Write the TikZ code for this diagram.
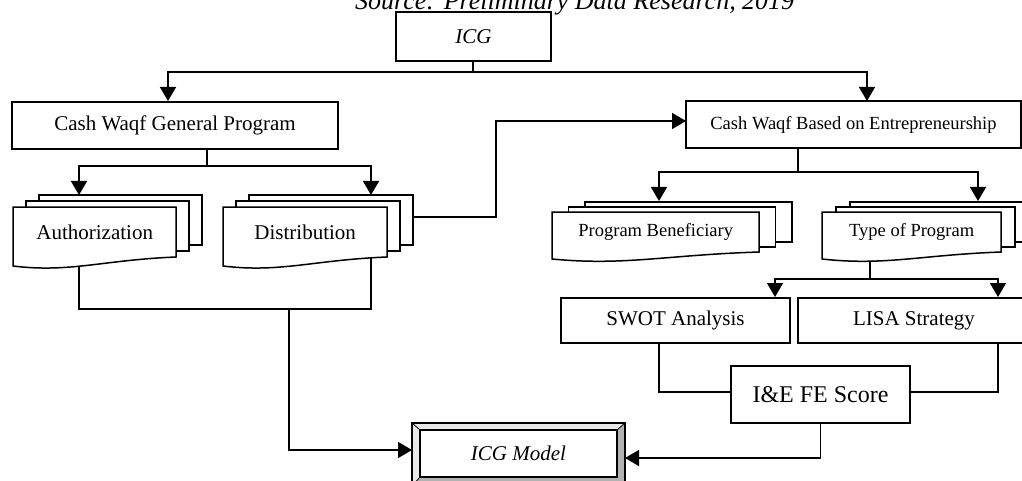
\documentclass[tikz,border=0pt]{standalone}
\usepackage{fontspec}
\setmainfont{Liberation Serif}
\usetikzlibrary{arrows.meta}

% A stack of three document pages: two plain sheets behind a front sheet with a wavy foot.
% #1 name, #2 left, #3 top, #4 width, #5 right-side height, #6 left-side height,
% #7 x offset of the back sheets, #8 y offset of the back sheets, #9 label
\newcommand\docstack[9]{%
  \draw[pg] ({#2+2*#7},{#3-2*#8}) rectangle ++(#4,#5);
  \draw[pg] ({#2+#7},{#3-#8}) rectangle ++(#4,#5);
  \draw[pg] (#2,#3) -- ++(#4,0) -- ++(0,#5)
    .. controls ++({-0.45*#4},3) and ({#2+0.35*#4},{#3+#6+7}) .. (#2,{#3+#6}) -- cycle;
  \node[inner sep=0pt, minimum width=#4, minimum height=#5, anchor=north west] (#1) at (#2,#3) {#9};
}

\begin{document}
\begin{tikzpicture}[x=1pt,y=-1pt,
  ln/.style={line width=1.6pt},
  arr/.style={ln,-{Triangle[width=16pt,length=14pt]}},
  pg/.style={draw,line width=1.5pt,fill=white,line join=miter},
  box/.style={draw,line width=1.5pt,fill=white,inner sep=0pt},
  txt/.style={font=\fontsize{21}{25}\selectfont},
  small/.style={font=\fontsize{18.5}{22}\selectfont},
]
\useasboundingbox (0,0) rectangle (1022,481);
\clip (0,0) rectangle (1022,481);

% caption line above the chart
\node[anchor=base west, inner sep=0pt, font=\fontsize{26}{30}\selectfont\itshape] (src) at (355,10)
  {Source: Preliminary Data Research, 2019};

% ---------- connectors (drawn first, shapes cover their ends) ----------
\coordinate (top) at (473,61);
\draw[arr] (top) |- (168,72) -- (168,101);
\draw[arr] (top) |- (867,72) -- (867,101);

\coordinate (gp) at (207,149);
\draw[arr] (gp) |- (79,166) -- (79,195);
\draw[arr] (gp) |- (371,166) -- (371,195);

\draw[arr] (413,217) -- (496,217) |- (686,121);

\coordinate (be) at (798,148);
\draw[arr] (be) |- (659,172) -- (659,201);
\draw[arr] (be) |- (978,172) -- (978,201);

\coordinate (tp) at (870,255);
\draw[arr] (tp) |- (775,279) -- (775,297);
\draw[arr] (tp) |- (998,279) -- (998,297);

\draw[ln] (79,255) -- (79,309) -- (371,309) -- (371,255);
\draw[arr] (289,309) |- (412,450);

% ---------- boxes ----------
\node[box, minimum width=155, minimum height=49, font=\fontsize{21}{25}\selectfont\itshape] (icg) at (473.5,36.5) {ICG};
\node[box, minimum width=326, minimum height=47, txt] (cwgp) at (175,125.5) {Cash Waqf General Program};
\node[box, minimum width=335, minimum height=47, small] (cwbe) at (853.5,124.5) {Cash Waqf Based on Entrepreneurship};

\docstack{auth}{13}{207}{163}{50}{59}{13}{6}{\fontsize{21}{25}\selectfont Authorization}
\docstack{dist}{223}{207}{164}{50}{59}{13}{6}{\fontsize{21}{25}\selectfont Distribution}
\docstack{benef}{552}{212}{207}{40}{47}{16.5}{5}{\fontsize{18.5}{22}\selectfont Program Beneficiary}
\docstack{type}{822}{212}{179}{40}{47}{14}{5}{\fontsize{18.5}{22}\selectfont Type of Program}

\node[box, minimum width=229, minimum height=45, txt] (swot) at (675.5,320.5) {SWOT Analysis};
\node[box, minimum width=232, minimum height=45, txt] (lisa) at (914,320.5) {LISA Strategy};

\draw[ln] (659,343) |- (731,392);
\draw[ln] (998,343) |- (910,392);
\node[box, minimum width=179, minimum height=57, font=\fontsize{24}{28}\selectfont] (ie) at (820.5,394.5) {I\&E FE Score};
\draw[arr] (ie.south) |- (625,458);

% ---------- bevelled result box ----------
\fill[gray!18] (412,423) rectangle (625,486);
\fill[gray!60] (625,423) -- (617,430) -- (617,477) -- (420,477) -- (412,486) -- (625,486) -- cycle;
\draw[line width=0.8pt] (412,423) -- (420,430) (625,423) -- (617,430) (412,486) -- (420,477);
\draw[line width=1.5pt] (412,423) rectangle (625,486);
\node[box, minimum width=197, minimum height=47, font=\fontsize{21}{25}\selectfont\itshape] (model) at (518.5,453.5) {ICG Model};
\end{tikzpicture}
\end{document}
